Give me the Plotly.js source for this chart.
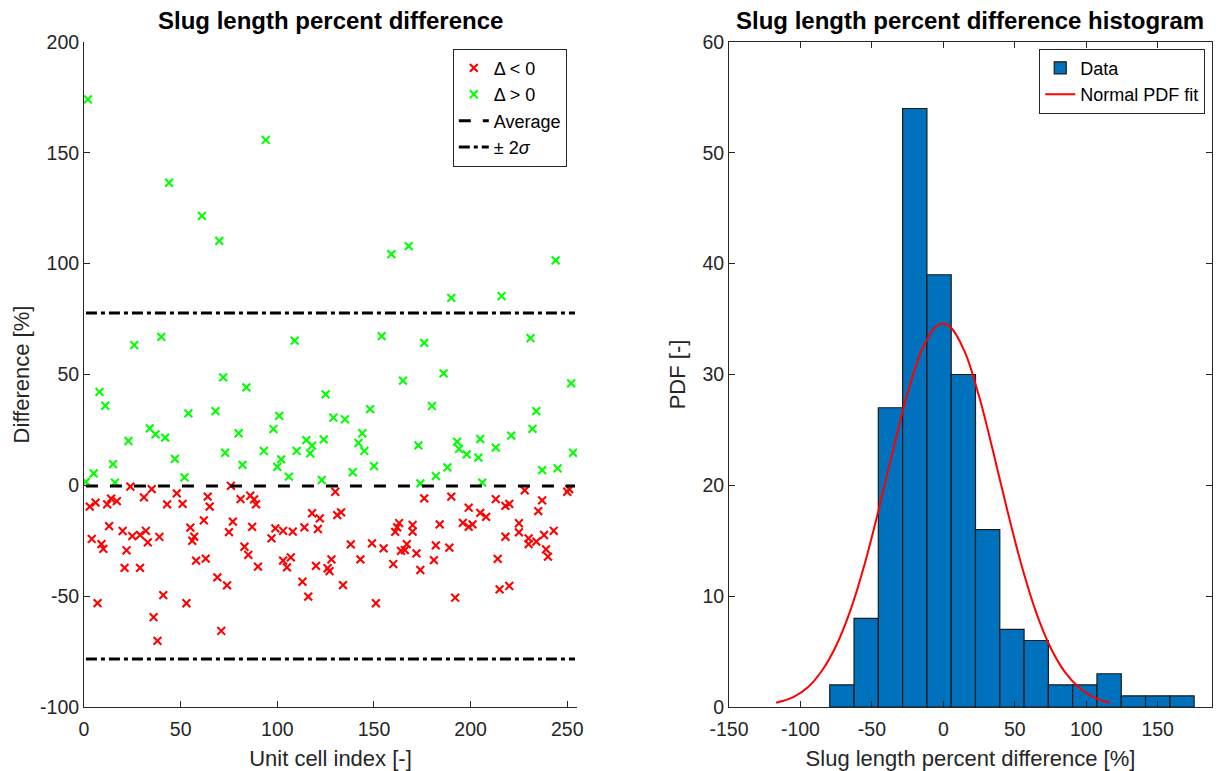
<!DOCTYPE html>
<html><head><meta charset="utf-8">
<script src="https://cdn.plot.ly/plotly-3.0.1.min.js"></script>
<style>html,body{margin:0;padding:0;background:#fff}</style>
</head><body><div id="chart" style="width:1219px;height:771px"></div>
<script>
// ---- Left panel: per-cell percent difference ----
const negIndex = [24,35,31,48,43,51,3,6,12,14,17,13,4,9,10,20,22,21,25,29,32,33,29,39,7,41,36,38,53,55,57,56,58,63,62,64,65,69,74,71,76,81,77,75,83,85,87,
  86,88,89,90,97,99,103,108,114,118,122,121,130,131,133,103,105,107,113,116,120,126,127,128,134,138,143,149,155,151,160,164,167,161,162,163,
  176,190,199,205,208,196,199,201,213,218,220,228,237,235,250,251,170,170,184,166,172,174,182,181,189,192,218,214,215,220,225,225,230,230,234,238,243,239,240];
const negDiff = [-0.6,-1.7,-5.4,-3.6,-8.6,-8.4,-9.6,-7.8,-8.6,-6.0,-7.1,-18.4,-24.2,-26.5,-28.7,-20.6,-29.3,-37.2,-22.9,-22.4,-20.5,-25.7,-37.2,-23.3,-53.1,-49.5,-59.5,-70.2,-53.2,-19.1,-23.2,-25.0,-34.0,-33.1,-15.8,-5.1,-9.6,-41.5,-45.1,-65.7,-0.2,-6.2,-16.4,-21.1,-27.7,-31.4,-18.7,
  -4.7,-6.3,-8.6,-36.7,-23.9,-19.4,-20.5,-20.9,-19.0,-12.6,-14.9,-19.7,-2.9,-13.4,-12.2,-34.0,-37.0,-32.5,-43.5,-50.2,-36.3,-37.4,-38.7,-33.4,-45.0,-26.6,-33.4,-26.2,-28.4,-53.2,-35.5,-29.6,-26.5,-21.0,-19.0,-17.0,
  -5.9,-5.1,-10.1,-12.4,-14.2,-16.9,-18.7,-17.6,-6.2,-9.3,-8.4,-2.3,-6.8,-11.6,-2.9,-1.7,-17.9,-20.9,-17.6,-29.2,-30.7,-38.2,-27.1,-33.7,-28.1,-50.7,-23.2,-33.2,-46.9,-45.4,-17.1,-21.2,-23.9,-26.5,-25.4,-22.4,-20.5,-28.9,-32.2];
const posIndex = [2,44,61,70,94,159,168,244,190,216,
  26,40,109,154,176,231,
  8,11,23,34,37,42,54,68,72,84,80,73,82,47,52,15,5,1,16,
  125,165,101,98,129,135,148,144,142,145,150,139,93,102,100,106,115,118,117,124,110,123,
  186,252,180,234,232,221,213,205,204,198,194,193,173,188,182,174,206,237,245,253];
const posDiff = [174.1,136.5,121.6,110.3,155.8,104.3,107.9,101.5,84.6,85.4,
  63.3,67.0,65.3,67.3,64.3,66.4,
  42.2,35.9,20.0,25.7,23.0,21.5,32.5,33.5,48.7,44.2,23.5,14.7,9.2,11.9,3.6,9.6,5.4,1.6,1.2,
  41.0,47.2,31.3,25.4,30.5,29.8,34.4,23.5,19.1,15.5,8.7,5.9,15.5,11.7,8.3,3.9,20.4,17.9,14.4,20.7,15.5,2.4,
  50.5,46.0,35.8,33.5,25.5,22.4,17.0,20.9,12.5,14.0,16.4,19.7,18.0,8.1,4.2,0.9,1.2,6.9,7.7,14.7];
const lineSpan = [1, 254];
const averageValue = -0.3;
const upper2Sigma = 77.7;
const lower2Sigma = -78.3;
const leftXTicks = [0, 50, 100, 150, 200, 250];
const leftYTicks = [-100, -50, 0, 50, 100, 150, 200];

// ---- Right panel: histogram ----
const binEdges = [-79.5,-62.5,-45.5,-28.5,-11.5,5.5,22.5,39.5,56.5,73.5,90.5,107.5,124.5,141.5,158.5,175.5];
const binCounts = [2,8,27,54,39,30,16,7,6,2,2,3,1,1,1];
const fitX = [-117,-105,-95,-85,-75,-65,-55,-45,-35,-25,-15,-5,0,5,15,25,35,45,55,65,75,85,95,105,116.4];
const fitY = [0.39,0.90,1.75,3.27,5.53,8.74,12.93,17.94,23.29,28.31,32.23,34.35,34.6,34.28,32.04,28.03,22.97,17.62,12.66,8.52,5.37,3.17,1.75,0.90,0.39];
const rightXTicks = [-150, -100, -50, 0, 50, 100, 150];
const rightYTicks = [0, 10, 20, 30, 40, 50, 60];

const binCenters = binCounts.map((_, i) => (binEdges[i] + binEdges[i + 1]) / 2);
const binWidths = binCounts.map((_, i) => binEdges[i + 1] - binEdges[i]);
const label = (v) => String(v); // plain hyphen-minus, as in the reference

const FONT = 'Liberation Sans, Arial, Helvetica, sans-serif';
const AX = '#262626';

const xMarker = (c) => ({symbol: 'x-thin', size: 7.8, color: c, line: {color: c, width: 2.1}});

const traces = [
  {x: negIndex, y: negDiff, type: 'scatter', mode: 'markers', name: 'Δ &lt; 0', marker: xMarker('#ff0000'), legend: 'legend', xaxis: 'x', yaxis: 'y'},
  {x: posIndex, y: posDiff, type: 'scatter', mode: 'markers', name: 'Δ &gt; 0', marker: xMarker('#00ff00'), legend: 'legend', xaxis: 'x', yaxis: 'y'},
  {x: lineSpan, y: [averageValue, averageValue], type: 'scatter', mode: 'lines', name: 'Average', line: {color: '#000', width: 3, dash: '12px,12px'}, legend: 'legend', xaxis: 'x', yaxis: 'y'},
  {x: lineSpan, y: [upper2Sigma, upper2Sigma], type: 'scatter', mode: 'lines', name: '± 2<i>σ</i>', line: {color: '#000', width: 3, dash: '11px,4px,4px,4px'}, legend: 'legend', xaxis: 'x', yaxis: 'y'},
  {x: lineSpan, y: [lower2Sigma, lower2Sigma], type: 'scatter', mode: 'lines', showlegend: false, line: {color: '#000', width: 3, dash: '11px,4px,4px,4px'}, xaxis: 'x', yaxis: 'y'},
  {x: binCenters, y: binCounts, width: binWidths, type: 'bar', name: 'Data', marker: {color: '#0072BD', line: {color: '#1a1a1a', width: 1.2}}, legend: 'legend2', xaxis: 'x2', yaxis: 'y2'},
  {x: fitX, y: fitY, type: 'scatter', mode: 'lines', name: 'Normal PDF fit', line: {color: '#ff0000', width: 2, shape: 'spline'}, legend: 'legend2', xaxis: 'x2', yaxis: 'y2'}
];

const axBase = {
  ticks: 'inside', ticklen: 6, tickwidth: 1, tickcolor: AX,
  showline: true, linecolor: AX, linewidth: 1,
  showgrid: false, zeroline: false,
  tickfont: {family: FONT, size: 19.5, color: AX},
  tickmode: 'array',
  automargin: false
};
const titleFont = {family: FONT, size: 22, color: AX};

const legendBase = {
  xanchor: 'right', yanchor: 'top', xref: 'paper', yref: 'paper',
  bgcolor: '#ffffff', bordercolor: AX, borderwidth: 1,
  font: {family: FONT, size: 18, color: '#000'}, traceorder: 'normal', tracegroupgap: 0
};

const layout = {
  width: 1219, height: 771,
  margin: {l: 84, r: 7, t: 42, b: 64},
  paper_bgcolor: '#fff', plot_bgcolor: '#fff',
  font: {family: FONT, color: AX},
  bargap: 0,
  xaxis: Object.assign({}, axBase, {domain: [0, 0.437], range: [0, 255], anchor: 'y',
    tickvals: leftXTicks, ticktext: leftXTicks.map(label), ticklabelstandoff: 5,
    title: {text: 'Unit cell index [-]', font: titleFont, standoff: 12}}),
  yaxis: Object.assign({}, axBase, {domain: [0, 1], range: [-100, 200], anchor: 'x',
    tickvals: leftYTicks, ticktext: leftYTicks.map(label),
    title: {text: 'Difference [%]', font: titleFont, standoff: 4}}),
  xaxis2: Object.assign({}, axBase, {domain: [0.5718, 1], range: [-150, 188], anchor: 'y2', mirror: 'ticks',
    tickvals: rightXTicks, ticktext: rightXTicks.map(label), ticklabelstandoff: 5,
    title: {text: 'Slug length percent difference [%]', font: titleFont, standoff: 12}}),
  yaxis2: Object.assign({}, axBase, {domain: [0, 1], range: [0, 60], anchor: 'x2', mirror: 'ticks',
    tickvals: rightYTicks, ticktext: rightYTicks.map(label),
    title: {text: 'PDF [-]', font: titleFont, standoff: 10}}),
  legend: Object.assign({}, legendBase, {x: 0.428, y: 0.99}),
  legend2: Object.assign({}, legendBase, {x: 0.994, y: 0.99}),
  annotations: [
    {text: '<b>Slug length percent difference</b>', xref: 'paper', yref: 'paper', x: 0.2185, y: 1.033, xanchor: 'center', yanchor: 'middle', showarrow: false, font: {family: FONT, size: 24, color: '#000'}},
    {text: '<b>Slug length percent difference histogram</b>', xref: 'paper', yref: 'paper', x: 0.7859, y: 1.033, xanchor: 'center', yanchor: 'middle', showarrow: false, font: {family: FONT, size: 24, color: '#000'}}
  ],
  showlegend: true
};

Plotly.newPlot('chart', traces, layout, {displayModeBar: false, staticPlot: true});
</script></body></html>
